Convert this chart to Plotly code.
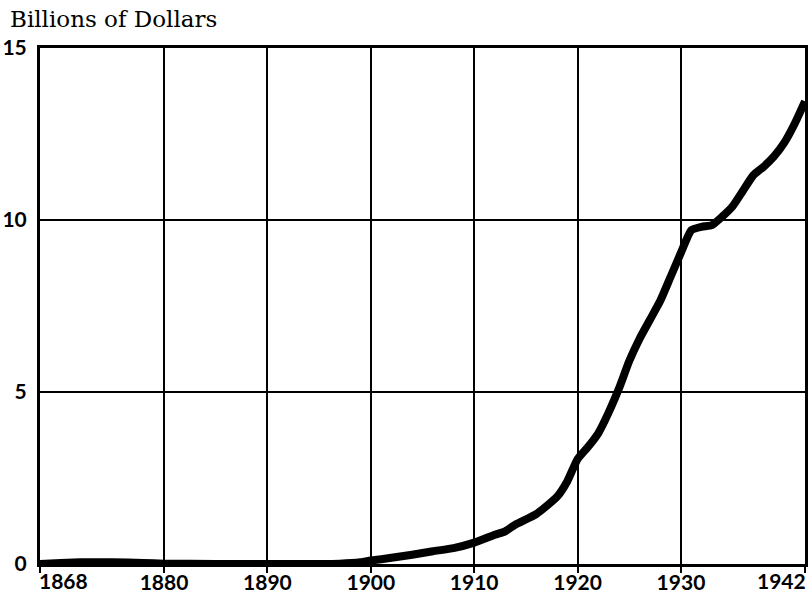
import plotly.graph_objects as go

years = [1868, 1870, 1872, 1875, 1878, 1880, 1885, 1890, 1895, 1897, 1899,
         1900, 1902, 1904, 1906, 1908, 1910, 1912, 1913, 1914, 1916, 1918,
         1919, 1920, 1921, 1922, 1923, 1924, 1925, 1926, 1927, 1928, 1929,
         1930, 1931, 1932, 1933, 1934, 1935, 1936, 1937, 1938, 1939, 1940,
         1941, 1942]
values = [0.0, 0.03, 0.05, 0.05, 0.03, 0.01, 0.0, 0.0, 0.0, 0.01, 0.05,
          0.1, 0.18, 0.27, 0.37, 0.46, 0.62, 0.85, 0.95, 1.15, 1.45, 1.95,
          2.4, 3.05, 3.4, 3.8, 4.4, 5.1, 5.9, 6.55, 7.1, 7.65, 8.35,
          9.05, 9.7, 9.8, 9.85, 10.1, 10.4, 10.85, 11.3, 11.55, 11.85, 12.25,
          12.8, 13.45]

x_ticks = [1868, 1880, 1890, 1900, 1910, 1920, 1930, 1942]
x_tick_labels = ["1868", "1880", "1890", "1900", "1910", "1920", "1930", "1942"]
y_ticks = [0, 5, 10, 15]
y_tick_labels = ["0", "5", "10", "15"]
y_title = "Billions of Dollars"

fig = go.Figure()
fig.add_trace(go.Scatter(
    x=years, y=values, mode="lines",
    line=dict(color="black", width=8, shape="spline", smoothing=0.5),
    hoverinfo="skip", showlegend=False,
))

tick_font = dict(family="Lato", size=21, color="black", weight="bold")

# end labels are drawn inward (as in the reference), inner ones via the axis
inner_text = [""] + x_tick_labels[1:-1] + [""]

fig.update_layout(
    width=809, height=597,
    margin=dict(l=40, r=4, t=48, b=33),
    paper_bgcolor="white", plot_bgcolor="white",
    xaxis=dict(
        range=[1868, 1942], tickvals=x_ticks, ticktext=inner_text,
        showgrid=True, gridcolor="black", gridwidth=2,
        showline=True, linecolor="black", linewidth=3, mirror=True,
        ticks="outside", ticklen=6, tickwidth=2, tickcolor="black",
        tickfont=tick_font, zeroline=False, automargin=False,
        ticklabeloverflow="allow", ticklabelstandoff=-8,
    ),
    yaxis=dict(
        range=[0, 15], tickvals=y_ticks, ticktext=y_tick_labels,
        showgrid=True, gridcolor="black", gridwidth=2,
        showline=True, linecolor="black", linewidth=3, mirror=True,
        ticks="", tickfont=tick_font, zeroline=False, automargin=False,
        ticklabelstandoff=6, ticklabeloverflow="allow",
    ),
    annotations=[
        dict(text=y_title, xref="paper", yref="paper", x=0, y=1,
             xanchor="left", yanchor="bottom", xshift=-32, yshift=14,
             showarrow=False,
             font=dict(family="DejaVu Serif", size=23, color="black")),
        dict(text=x_tick_labels[0], xref="x", yref="paper", x=x_ticks[0], y=0,
             xanchor="left", yanchor="top", xshift=-3, yshift=-2,
             showarrow=False, font=tick_font),
        dict(text=x_tick_labels[-1], xref="x", yref="paper", x=x_ticks[-1], y=0,
             xanchor="right", yanchor="top", xshift=3, yshift=-2,
             showarrow=False, font=tick_font),
    ],
)

fig.write_html("out.html",
               config={"displayModeBar": False, "staticPlot": True},
               post_script="document.body.style.margin='0';"
                           "document.body.style.overflow='hidden';")
